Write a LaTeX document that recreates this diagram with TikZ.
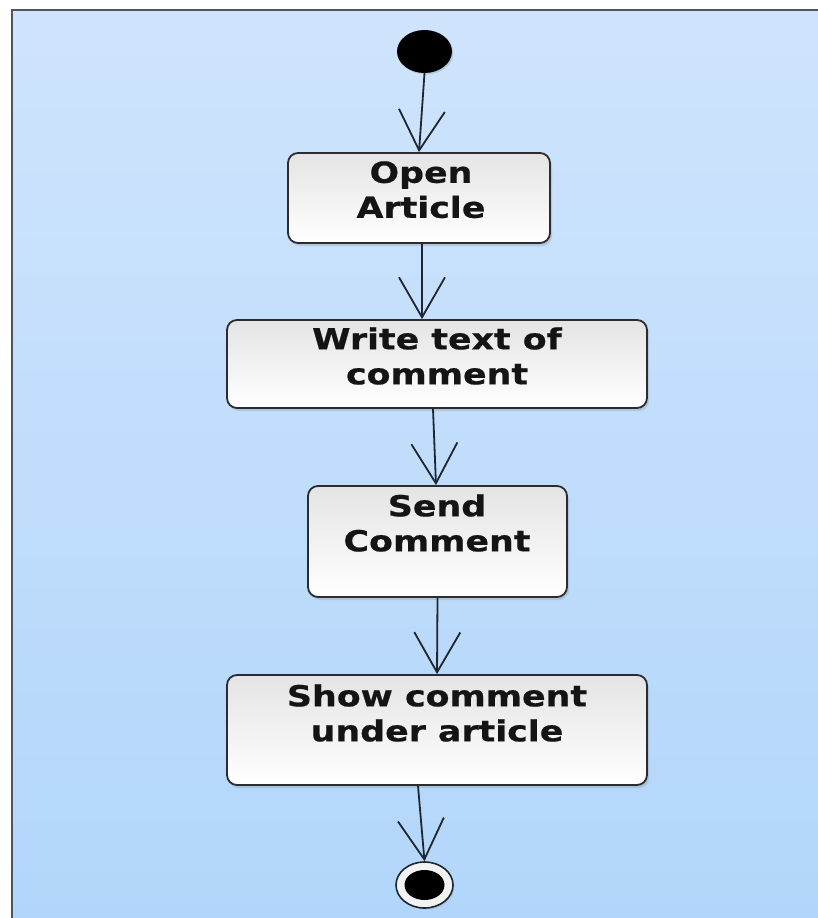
\documentclass[tikz,border=0pt]{standalone}
\usepackage{fontspec}
\newfontfamily\boxfont[FakeStretch=1.2,FakeBold=0.6]{DejaVu Sans}
\usetikzlibrary{arrows.meta,shadows,calc,shapes.geometric}
\definecolor{bgtop}{HTML}{CFE4FC}
\definecolor{bgbot}{HTML}{B2D6FB}
\definecolor{framec}{HTML}{50555C}
\definecolor{ink}{HTML}{1E2630}
\definecolor{boxline}{HTML}{2A2C30}
\definecolor{boxtop}{HTML}{E4E4E4}
\begin{document}
\begin{tikzpicture}[x=1pt,y=-1pt,
  actbox/.style={rectangle, rounded corners=10pt, draw=boxline, line width=1.8pt,
    top color=boxtop, bottom color=white, inner sep=0pt,
    drop shadow={opacity=0.25, shadow xshift=2pt, shadow yshift=-3pt}},
  lbl/.style={anchor=north, inner sep=0pt, align=center, text=black!92,
    font={\boxfont\bfseries\fontsize{29}{35}\selectfont}},
  flow/.style={draw=ink, line width=1.8pt,
    -{Straight Barb[length=40pt,width=46pt,line width=1.8pt]}},
  startnode/.style={ellipse, fill=black, inner sep=0pt,
    minimum width=55pt, minimum height=43pt,
    drop shadow={opacity=0.25, shadow xshift=1.5pt, shadow yshift=-1.5pt}},
  endouter/.style={ellipse, draw=ink, line width=1.6pt, fill=white!90!gray,
    inner sep=0pt, minimum width=57pt, minimum height=46pt,
    drop shadow={opacity=0.25, shadow xshift=1.5pt, shadow yshift=-1.5pt}},
  endinner/.style={ellipse, fill=black, inner sep=0pt,
    minimum width=40pt, minimum height=30pt}
]
\useasboundingbox (0,0) rectangle (818,918);
\fill[white] (0,0) rectangle (818,918);
\shade[top color=bgtop, bottom color=bgbot] (12,10) rectangle (818,918);
\draw[framec, line width=2pt] (12,918) -- (12,10) -- (818,10);

% nodes
\node[startnode] (start) at (424.5,51.5) {};
\node[actbox, minimum width=262pt, minimum height=90pt] (b1) at (419,198) {};
\node[actbox, minimum width=420pt, minimum height=88pt] (b2) at (437,364) {};
\node[actbox, minimum width=259pt, minimum height=111pt] (b3) at (437.5,541.5) {};
\node[actbox, minimum width=420pt, minimum height=110pt] (b4) at (437,730) {};
\node[endouter] (finish) at (424.5,885) {};
\node[endinner] (finishdot) at (finish.center) {};

% labels
\node[lbl] (t1) at ($(b1.north)+(2,9)$) {Open\\Article};
\node[lbl] (t2) at ($(b2.north)+(0,8)$) {Write text of\\comment};
\node[lbl] (t3) at ($(b3.north)+(-0.5,9)$) {Send\\Comment};
\node[lbl] (t4) at ($(b4.north)+(0,10)$) {Show comment\\under article};

% connectors
\draw[flow] (start.south) -- (b1.north);
\draw[flow] ($(b1.south)+(3,0)$) -- ($(b2.north)+(-15,0)$);
\draw[flow] ($(b2.south)+(-4,0)$) -- ($(b3.north)+(-1.5,0)$);
\draw[flow] (b3.south) -- (b4.north);
\draw[flow] ($(b4.south)+(-19,0)$) -- (finish.north);
\end{tikzpicture}
\end{document}
